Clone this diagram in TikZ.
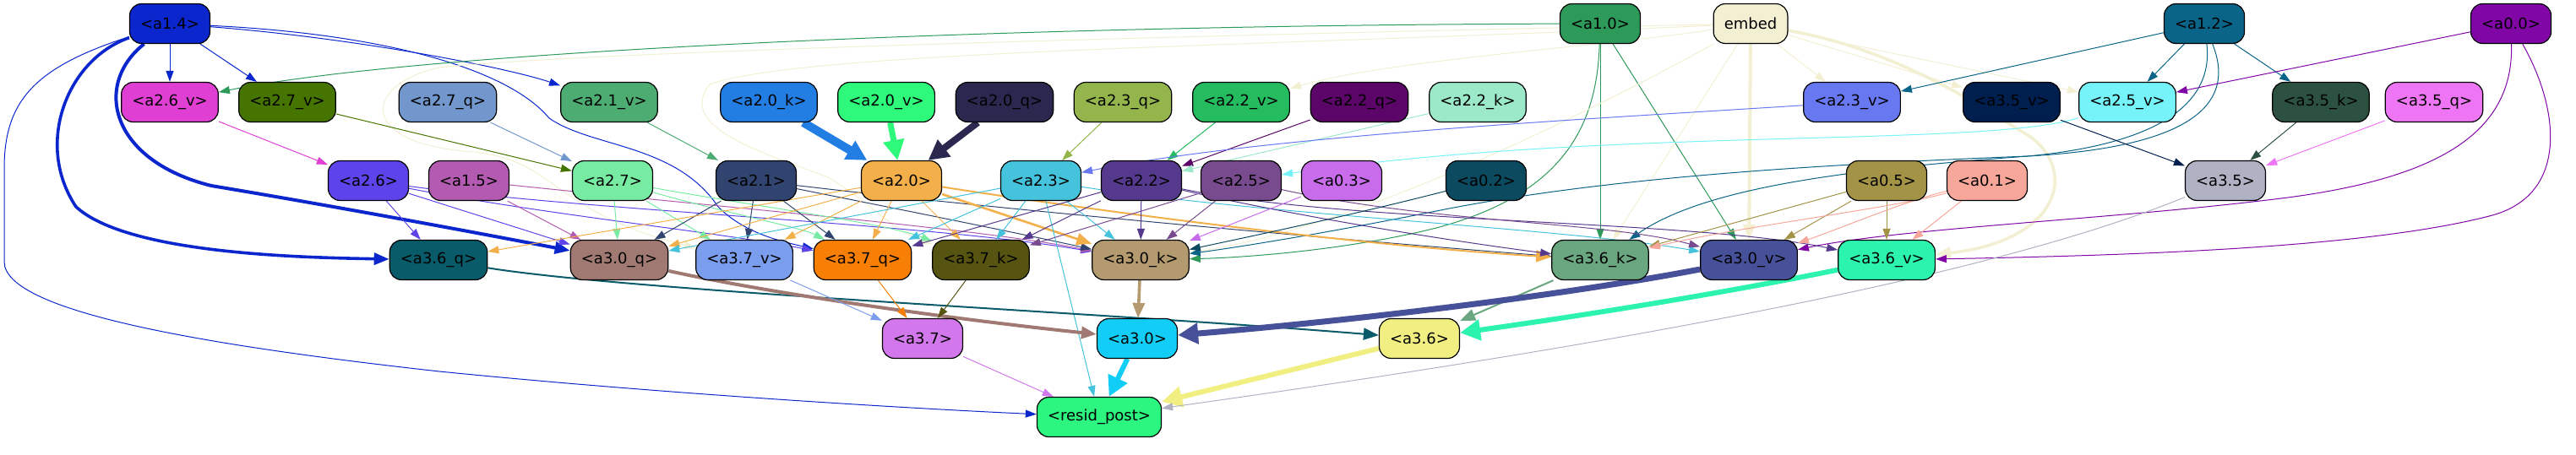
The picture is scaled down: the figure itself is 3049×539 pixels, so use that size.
\documentclass[tikz,border=0pt]{standalone}
\usepackage{fontspec}
\setmainfont{DejaVu Sans}
\usetikzlibrary{arrows.meta, backgrounds}
\definecolor{c14}{HTML}{0A26CC}
\definecolor{c10}{HTML}{2E9A5A}
\definecolor{cemb}{HTML}{F3EFD2}
\definecolor{c12}{HTML}{0A6488}
\definecolor{c00}{HTML}{8006A6}
\definecolor{c26v}{HTML}{E03FD4}
\definecolor{c27v}{HTML}{457500}
\definecolor{c27q}{HTML}{7297CC}
\definecolor{c21v}{HTML}{4CAC72}
\definecolor{c20k}{HTML}{237EE3}
\definecolor{c20v}{HTML}{2EF97A}
\definecolor{c20q}{HTML}{2A284F}
\definecolor{c23q}{HTML}{94B54B}
\definecolor{c22v}{HTML}{25BB5F}
\definecolor{c22q}{HTML}{5B0568}
\definecolor{c22k}{HTML}{9BE9C9}
\definecolor{c23v}{HTML}{6778F0}
\definecolor{c35v}{HTML}{001F4E}
\definecolor{c25v}{HTML}{76F2F9}
\definecolor{c35k}{HTML}{2D5140}
\definecolor{c35q}{HTML}{EE76F4}
\definecolor{c26}{HTML}{5D44EA}
\definecolor{c15}{HTML}{B25BB0}
\definecolor{c27}{HTML}{78EBA2}
\definecolor{c21}{HTML}{31446F}
\definecolor{c20}{HTML}{F3B04A}
\definecolor{c23}{HTML}{46C3DC}
\definecolor{c22}{HTML}{55398C}
\definecolor{c25}{HTML}{784B8F}
\definecolor{c03}{HTML}{C86CEC}
\definecolor{c02}{HTML}{0C4A5F}
\definecolor{c05}{HTML}{A39347}
\definecolor{c01}{HTML}{F7A69A}
\definecolor{c35}{HTML}{B0B2C3}
\definecolor{c36q}{HTML}{0A5B6A}
\definecolor{c30q}{HTML}{A07A72}
\definecolor{c37v}{HTML}{7B9DED}
\definecolor{c37q}{HTML}{F77F06}
\definecolor{c37k}{HTML}{575412}
\definecolor{c30k}{HTML}{B39A6F}
\definecolor{c36k}{HTML}{6AA67F}
\definecolor{c30v}{HTML}{46519A}
\definecolor{c36v}{HTML}{2CF4AE}
\definecolor{c37}{HTML}{D377EC}
\definecolor{c30}{HTML}{12CDF5}
\definecolor{c36}{HTML}{F2EF82}
\definecolor{cres}{HTML}{2CF67F}
\tikzset{
    blk/.style={rectangle, rounded corners=7pt, draw=black, line width=0.6pt, minimum height=23.5pt, inner xsep=6.3pt, inner ysep=0pt, font=\fontsize{9}{11}\selectfont, text=black},
    ed/.style={-{Triangle[length=6.5pt,width=4.5pt]}, line width=0.5pt},
    edm/.style={-{Triangle[length=9pt,width=7pt]}},
    edt/.style={-{Triangle[length=12pt,width=12pt]}}
}
\begin{document}
\begin{tikzpicture}[x=0.5pt, y=-0.5pt]
\useasboundingbox (0,0) rectangle (3049,539);
% top row
\node[blk, fill=c14] (a14) at (201,28) {<a1.4>};
\node[blk, fill=c10] (a10) at (1894,28) {<a1.0>};
\node[blk, fill=cemb] (emb) at (2072,28) {embed};
\node[blk, fill=c12] (a12) at (2609,28) {<a1.2>};
\node[blk, fill=c00] (a00) at (2972,28) {<a0.0>};
% second row
\node[blk, fill=c26v] (a26v) at (201,121) {<a2.6\_v>};
\node[blk, fill=c27v] (a27v) at (340,121) {<a2.7\_v>};
\node[blk, fill=c27q] (a27q) at (530,121) {<a2.7\_q>};
\node[blk, fill=c21v] (a21v) at (721,121) {<a2.1\_v>};
\node[blk, fill=c20k] (a20k) at (910,121) {<a2.0\_k>};
\node[blk, fill=c20v] (a20v) at (1049,121) {<a2.0\_v>};
\node[blk, fill=c20q] (a20q) at (1189,121) {<a2.0\_q>};
\node[blk, fill=c23q] (a23q) at (1329,121) {<a2.3\_q>};
\node[blk, fill=c22v] (a22v) at (1469,121) {<a2.2\_v>};
\node[blk, fill=c22q] (a22q) at (1609,121) {<a2.2\_q>};
\node[blk, fill=c22k] (a22k) at (1749,121) {<a2.2\_k>};
\node[blk, fill=c23v] (a23v) at (2192,121) {<a2.3\_v>};
\node[blk, fill=c35v] (a35v) at (2381,121) {<a3.5\_v>};
\node[blk, fill=c25v] (a25v) at (2518,121) {<a2.5\_v>};
\node[blk, fill=c35k] (a35k) at (2747,121) {<a3.5\_k>};
\node[blk, fill=c35q] (a35q) at (2881,121) {<a3.5\_q>};
% third row
\node[blk, fill=c26] (a26) at (436,214) {<a2.6>};
\node[blk, fill=c15] (a15) at (555,214) {<a1.5>};
\node[blk, fill=c27] (a27) at (725,214) {<a2.7>};
\node[blk, fill=c21] (a21) at (895,214) {<a2.1>};
\node[blk, fill=c20] (a20) at (1067,214) {<a2.0>};
\node[blk, fill=c23] (a23) at (1232,214) {<a2.3>};
\node[blk, fill=c22] (a22) at (1351,214) {<a2.2>};
\node[blk, fill=c25] (a25) at (1469,214) {<a2.5>};
\node[blk, fill=c03] (a03) at (1588,214) {<a0.3>};
\node[blk, fill=c02] (a02) at (1759,214) {<a0.2>};
\node[blk, fill=c05] (a05) at (2233,214) {<a0.5>};
\node[blk, fill=c01] (a01) at (2352,214) {<a0.1>};
\node[blk, fill=c35] (a35) at (2634,214) {<a3.5>};
% fourth row
\node[blk, fill=c36q] (a36q) at (519,308) {<a3.6\_q>};
\node[blk, fill=c30q] (a30q) at (733,308) {<a3.0\_q>};
\node[blk, fill=c37v] (a37v) at (881,308) {<a3.7\_v>};
\node[blk, fill=c37q] (a37q) at (1021,308) {<a3.7\_q>};
\node[blk, fill=c37k] (a37k) at (1161,308) {<a3.7\_k>};
\node[blk, fill=c30k] (a30k) at (1350,308) {<a3.0\_k>};
\node[blk, fill=c36k] (a36k) at (1894,308) {<a3.6\_k>};
\node[blk, fill=c30v] (a30v) at (2070,308) {<a3.0\_v>};
\node[blk, fill=c36v] (a36v) at (2233,308) {<a3.6\_v>};
% fifth row and output
\node[blk, fill=c37] (a37) at (1092,401) {<a3.7>};
\node[blk, fill=c30] (a30) at (1346,401) {<a3.0>};
\node[blk, fill=c36] (a36) at (1680,401) {<a3.6>};
\node[blk, fill=cres] (resid) at (1301,494) {<resid\_post>};

\begin{scope}[on background layer]
% from a1.4
\draw[ed, c14] (a14) -- (a26v);
\draw[ed, c14] (a14) -- (a27v);
\draw[ed, c14] (a14) .. controls (420,45) and (600,80) .. (a21v);
\draw[ed, c14] (a14) .. controls (450,40) and (600,80) .. (650,140) .. controls (700,175) and (800,170) .. (850,245) .. controls (880,275) and (920,285) .. (a37q);
\draw[edm, c14, line width=2pt] (a14) .. controls (110,100) and (130,190) .. (250,220) .. controls (400,245) and (560,275) .. (a30q);
\draw[edm, c14, line width=1.8pt] (a14) .. controls (80,70) and (40,170) .. (90,245) .. controls (150,300) and (350,305) .. (a36q);
\draw[ed, c14] (a14) .. controls (40,80) and (5,120) .. (5,200) -- (5,310) .. controls (5,370) and (250,410) .. (520,440) .. controls (800,468) and (1100,485) .. (resid);
% from a1.0
\draw[ed, c10] (a10) .. controls (1200,30) and (500,60) .. (a26v);
\draw[ed, c10] (a10) -- (a36k);
\draw[ed, c10] (a10) -- (a30v);
\draw[ed, c10] (a10) .. controls (1890,150) and (1850,230) .. (1700,270) .. controls (1600,295) and (1480,305) .. (a30k);
% from embed
\draw[edm, cemb, line width=2pt] (emb) -- (a30v);
\draw[edm, cemb, line width=1.8pt] (emb) .. controls (2250,60) and (2350,130) .. (2400,160) .. controls (2460,200) and (2440,285) .. (a36v);
\draw[ed, cemb] (emb) -- (a23v);
\draw[ed, cemb] (emb) -- (a35v);
\draw[ed, cemb] (emb) -- (a25v);
\draw[ed, cemb] (emb) .. controls (1900,55) and (1650,70) .. (a22v);
\draw[ed, cemb] (emb) -- (a36k);
\draw[ed, cemb] (emb) .. controls (1500,40) and (700,60) .. (520,80) .. controls (430,100) and (420,170) .. (560,180) .. controls (660,190) and (650,250) .. (a37v);
\draw[ed, cemb] (emb) .. controls (1500,55) and (950,60) .. (840,100) .. controls (800,150) and (900,180) .. (980,210) .. controls (1030,240) and (1060,275) .. (a37k);
\draw[ed, cemb] (emb) .. controls (1850,150) and (1600,270) .. (a30k);
% from a1.2
\draw[ed, c12] (a12) -- (a23v);
\draw[ed, c12] (a12) -- (a25v);
\draw[ed, c12] (a12) -- (a35k);
\draw[ed, c12] (a12) .. controls (2620,120) and (2560,170) .. (2400,185) .. controls (2200,200) and (2020,220) .. (a36k);
\draw[ed, c12] (a12) .. controls (2650,130) and (2580,175) .. (2400,185) .. controls (2150,195) and (1900,210) .. (1700,250) .. controls (1550,280) and (1450,295) .. (a30k);
% from a0.0
\draw[ed, c00] (a00) -- (a25v);
\draw[ed, c00] (a00) .. controls (2975,150) and (2900,210) .. (2700,235) .. controls (2500,260) and (2250,270) .. (a30v);
\draw[ed, c00] (a00) .. controls (3030,130) and (3040,230) .. (2950,255) .. controls (2800,295) and (2500,303) .. (a36v);
% second row to third row
\draw[ed, c26v] (a26v) -- (a26);
\draw[ed, c27v] (a27v) -- (a27);
\draw[ed, c27q] (a27q) -- (a27);
\draw[ed, c21v] (a21v) -- (a21);
\draw[edt, c20k, line width=5pt] (a20k) -- (a20);
\draw[edt, c20v, line width=3.5pt] (a20v) -- (a20);
\draw[edt, c20q, line width=4pt] (a20q) -- (a20);
\draw[ed, c23q] (a23q) -- (a23);
\draw[ed, c22v] (a22v) -- (a22);
\draw[ed, c22q] (a22q) -- (a22);
\draw[ed, c22k] (a22k) -- (a22);
\draw[ed, c23v] (a23v) .. controls (1900,140) and (1500,160) .. (a23);
\draw[ed, c25v] (a25v) .. controls (2350,175) and (1900,150) .. (a25);
\draw[ed, c35v] (a35v) -- (a35);
\draw[ed, c35k] (a35k) -- (a35);
\draw[ed, c35q] (a35q) -- (a35);
% third row to fourth row
\draw[ed, c26] (a26) -- (a36q);
\draw[ed, c26] (a26) -- (a30q);
\draw[ed, c26] (a26) .. controls (650,255) and (850,275) .. (a37q);
\draw[ed, c26] (a26) .. controls (700,250) and (1100,265) .. (a30k);
\draw[ed, c15] (a15) -- (a30q);
\draw[ed, c15] (a15) .. controls (900,250) and (1150,270) .. (a30k);
\draw[ed, c27] (a27) -- (a30q);
\draw[ed, c27] (a27) -- (a37v);
\draw[ed, c27] (a27) .. controls (850,250) and (950,270) .. (a37q);
\draw[ed, c27] (a27) .. controls (900,245) and (1050,265) .. (a37k);
\draw[ed, c21] (a21) -- (a30q);
\draw[ed, c21] (a21) -- (a37v);
\draw[ed, c21] (a21) -- (a37q);
\draw[ed, c21] (a21) .. controls (1050,245) and (1200,275) .. (a30k);
\draw[ed, c21] (a21) .. controls (1200,250) and (1600,285) .. (a36k);
\draw[ed, c20] (a20) -- (a36q);
\draw[ed, c20] (a20) -- (a30q);
\draw[ed, c20] (a20) -- (a37v);
\draw[ed, c20] (a20) -- (a37q);
\draw[ed, c20] (a20) -- (a37k);
\draw[edm, c20, line width=1.3pt] (a20) -- (a30k);
\draw[edm, c20, line width=1pt] (a20) .. controls (1300,250) and (1600,290) .. (a36k);
\draw[ed, c23] (a23) -- (a30q);
\draw[ed, c23] (a23) -- (a37q);
\draw[ed, c23] (a23) -- (a37k);
\draw[ed, c23] (a23) -- (a30k);
\draw[ed, c23] (a23) -- (resid);
\draw[ed, c23] (a23) .. controls (1500,255) and (1850,270) .. (a30v);
\draw[ed, c22] (a22) -- (a37q);
\draw[ed, c22] (a22) -- (a37k);
\draw[ed, c22] (a22) -- (a30k);
\draw[ed, c22] (a22) .. controls (1550,260) and (1750,290) .. (a36k);
\draw[ed, c22] (a22) .. controls (1600,265) and (2000,260) .. (a36v);
\draw[ed, c25] (a25) -- (a37k);
\draw[ed, c25] (a25) -- (a30k);
\draw[ed, c25] (a25) .. controls (1700,265) and (1900,262) .. (a30v);
\draw[ed, c03] (a03) -- (a30k);
\draw[ed, c02] (a02) .. controls (1600,255) and (1480,280) .. (a30k);
\draw[ed, c05] (a05) -- (a36k);
\draw[ed, c05] (a05) -- (a30v);
\draw[ed, c05] (a05) -- (a36v);
\draw[ed, c01] (a01) .. controls (2250,245) and (2050,270) .. (a36k);
\draw[ed, c01] (a01) .. controls (2250,240) and (2180,270) .. (a30v);
\draw[ed, c01] (a01) -- (a36v);
% fourth row to fifth row
\draw[edm, c36q, line width=1pt] (a36q) .. controls (750,345) and (1300,370) .. (a36);
\draw[edm, c30q, line width=2pt] (a30q) .. controls (900,345) and (1100,375) .. (a30);
\draw[ed, c37v] (a37v) -- (a37);
\draw[ed, c37q] (a37q) -- (a37);
\draw[ed, c37k] (a37k) -- (a37);
\draw[edm, c30k, line width=1.8pt] (a30k) -- (a30);
\draw[edm, c36k, line width=1pt] (a36k) -- (a36);
\draw[edt, c30v, line width=3.5pt] (a30v) .. controls (1850,350) and (1600,380) .. (a30);
\draw[edt, c36v, line width=3pt] (a36v) .. controls (2050,345) and (1900,370) .. (a36);
% into resid_post
\draw[ed, c37] (a37) -- (resid);
\draw[edt, c30, line width=3pt] (a30) -- (resid);
\draw[edt, c36, line width=3pt] (a36) -- (resid);
\draw[ed, c35] (a35) .. controls (2350,330) and (1900,410) .. (resid);
\end{scope}
\end{tikzpicture}
\end{document}
